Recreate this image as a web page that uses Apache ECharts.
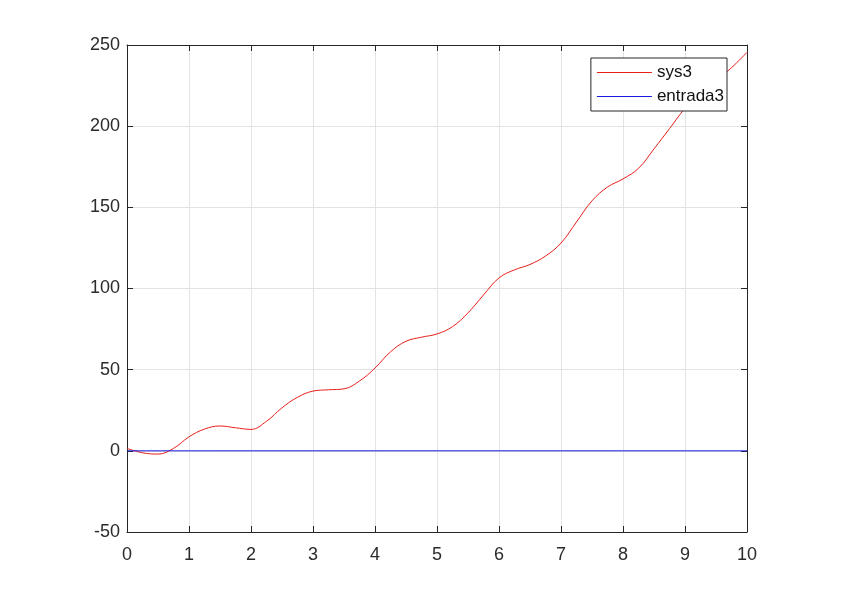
<!DOCTYPE html>
<html>
<head>
<meta charset="utf-8">
<script src="https://cdn.jsdelivr.net/npm/echarts@6/dist/echarts.min.js"></script>
<style>
  html, body { margin: 0; padding: 0; background: #fff; }
  #chart { width: 848px; height: 599px; }
</style>
</head>
<body>
<div id="chart"></div>
<script>
  // time samples
  const time = [
    0, 0.25, 0.5, 0.75, 1, 1.25, 1.5, 1.75, 2, 2.25,
    2.5, 2.75, 3, 3.25, 3.5, 3.75, 4, 4.25, 4.5, 4.75,
    5, 5.25, 5.5, 5.75, 6, 6.25, 6.5, 6.75, 7, 7.25,
    7.5, 7.75, 8, 8.25, 8.5, 8.75, 9, 9.25, 9.5, 9.75, 10,
  ];
  const sys3 = [
    1.5, -1.2, -2.0, 1.5, 8.6, 13.4, 15.3, 14.2, 13.2, 18.2,
    26.5, 33, 36.8, 37.6, 38.2, 43, 51, 61, 67.5, 70,
    72, 76.5, 85, 96, 106.5, 111.5, 114.8, 120, 128, 141,
    154, 162.5, 167.5, 174, 186, 198.5, 211, 221, 228, 236, 245.5,
  ];
  const entradaTime = [0, 10];
  const entrada3 = [0, 0];

  const xTicks = [0, 10, 1];
  const yTicks = [-50, 250, 50];

  const pairs = (xs, ys) => xs.map((x, i) => [x, ys[i]]);

  const axisColor = '#262626';
  const labelFont = { fontFamily: 'Liberation Sans', fontSize: 18, color: '#2b2b2b' };
  const tick = { show: true, inside: true, length: 6, lineStyle: { color: axisColor } };

  const chart = echarts.init(document.getElementById('chart'));
  const option = {
    backgroundColor: '#fff',
    animation: false,
    grid: {
      left: 127,
      right: 101,
      top: 45,
      bottom: 67,
    },
    legend: {
      right: 121,
      top: 58,
      orient: 'vertical',
      align: 'left',
      backgroundColor: '#fff',
      borderColor: axisColor,
      borderWidth: 1,
      borderRadius: 0,
      padding: [6, 3, 6, 6],
      itemGap: 7,
      itemWidth: 55,
      itemHeight: 1,
      icon: 'rect',
      textStyle: { fontFamily: 'Liberation Sans', fontSize: 17, color: '#111', lineHeight: 17 },
      data: ['sys3', 'entrada3'],
    },
    xAxis: [
      {
        type: 'value',
        min: xTicks[0],
        max: xTicks[1],
        interval: xTicks[2],
        axisLine: { show: true, onZero: false, lineStyle: { color: axisColor } },
        axisTick: tick,
        axisLabel: { ...labelFont, margin: 14 },
        splitLine: { show: true, lineStyle: { color: '#e3e3e3' } },
      },
      {
        type: 'value',
        position: 'top',
        min: xTicks[0],
        max: xTicks[1],
        interval: xTicks[2],
        axisLine: { show: true, onZero: false, lineStyle: { color: axisColor } },
        axisTick: tick,
        axisLabel: { show: false },
        splitLine: { show: false },
      },
    ],
    yAxis: [
      {
        type: 'value',
        min: yTicks[0],
        max: yTicks[1],
        interval: yTicks[2],
        axisLine: { show: true, onZero: false, lineStyle: { color: axisColor } },
        axisTick: tick,
        axisLabel: { ...labelFont, margin: 7 },
        splitLine: { show: true, lineStyle: { color: '#e3e3e3' } },
      },
      {
        type: 'value',
        position: 'right',
        min: yTicks[0],
        max: yTicks[1],
        interval: yTicks[2],
        axisLine: { show: true, onZero: false, lineStyle: { color: axisColor } },
        axisTick: tick,
        axisLabel: { show: false },
        splitLine: { show: false },
      },
    ],
    series: [
      {
        name: 'sys3',
        type: 'line',
        data: pairs(time, sys3),
        smooth: 0.4,
        showSymbol: false,
        color: '#e8201c',
        lineStyle: { width: 1, color: '#e8201c' },
        z: 2,
      },
      {
        name: 'entrada3',
        type: 'line',
        data: pairs(entradaTime, entrada3),
        showSymbol: false,
        color: '#1a1ae0',
        lineStyle: { width: 1, color: '#1a1ae0' },
        z: 3,
      },
    ],
  };
  chart.setOption(option);
</script>
</body>
</html>
